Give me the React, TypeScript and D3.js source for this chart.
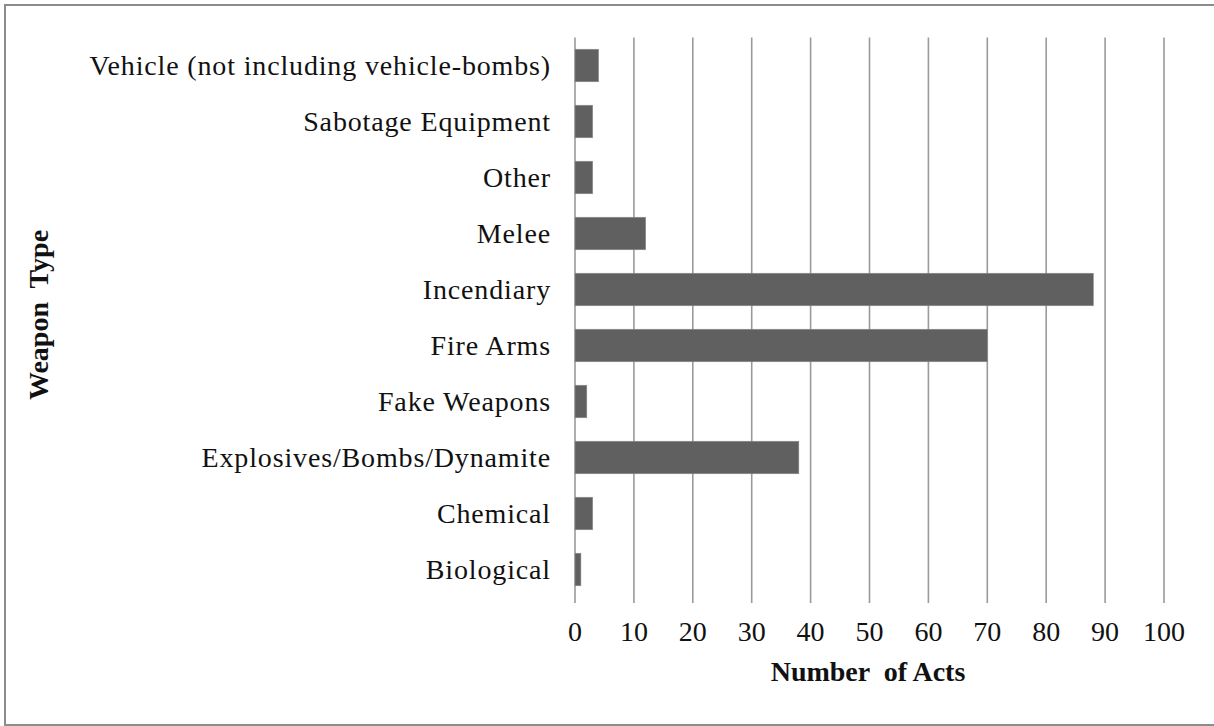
import React from "react";
import * as d3 from "d3";

const categories: string[] = [
  "Biological",
  "Chemical",
  "Explosives/Bombs/Dynamite",
  "Fake Weapons",
  "Fire Arms",
  "Incendiary",
  "Melee",
  "Other",
  "Sabotage Equipment",
  "Vehicle (not including vehicle-bombs)",
];
const values: number[] = [1, 3, 38, 2, 70, 88, 12, 3, 3, 4];
const xTicks: number[] = [0, 10, 20, 30, 40, 50, 60, 70, 80, 90, 100];
const xTitle = "Number  of Acts";
const yTitle = "Weapon  Type";

const W = 1214;
const H = 726;
const plotLeft = 575;
const plotRight = 1164;
const plotTop = 37.5;
const plotBottom = 597.5;
const font = "'Liberation Serif', 'Times New Roman', serif";

export default function App() {
  const x = d3.scaleLinear().domain([0, 100]).range([plotLeft, plotRight]);
  const y = d3
    .scaleBand<string>()
    .domain([...categories].reverse())
    .range([plotTop, plotBottom])
    .paddingInner(0.42)
    .paddingOuter(0.21);
  const step = y.step();

  return (
    <svg
      width={W}
      height={H}
      style={{ position: "absolute", left: 0, top: 0, background: "#fff" }}
    >
      <rect x={5} y={5} width={W + 10} height={720} fill="#fff" stroke="#8c8c8c" strokeWidth={2} />
      {xTicks.map((t) => (
        <line
          key={"g" + t}
          x1={x(t)}
          x2={x(t)}
          y1={plotTop}
          y2={plotBottom + 5.5}
          stroke="#9a9a9a"
          strokeWidth={1.6}
        />
      ))}
      {categories.map((c, i) => (
        <rect
          key={"b" + c}
          x={x(0)}
          y={y(c)!}
          width={x(values[i]) - x(0)}
          height={y.bandwidth()}
          fill="#606060"
          stroke="#8a8a8a"
          strokeWidth={0.6}
        />
      ))}
      {categories.map((c) => (
        <text
          key={"l" + c}
          x={551}
          y={y(c)! + y.bandwidth() / 2}
          dy="0.35em"
          textAnchor="end"
          fontFamily={font}
          fontSize={28}
          letterSpacing={0.85}
          fill="#111"
        >
          {c}
        </text>
      ))}
      {xTicks.map((t) => (
        <text
          key={"t" + t}
          x={x(t)}
          y={641}
          textAnchor="middle"
          fontFamily={font}
          fontSize={28}
          fill="#111"
        >
          {t}
        </text>
      ))}
      <text
        x={868}
        y={681}
        textAnchor="middle"
        fontFamily={font}
        fontSize={28}
        fontWeight="bold"
        fill="#111"
        style={{ whiteSpace: "pre" }}
      >
        {xTitle}
      </text>
      <text
        transform={`translate(48, ${315}) rotate(-90)`}
        textAnchor="middle"
        fontFamily={font}
        fontSize={28}
        fontWeight="bold"
        fill="#111"
        style={{ whiteSpace: "pre" }}
      >
        {yTitle}
      </text>
    </svg>
  );
}
